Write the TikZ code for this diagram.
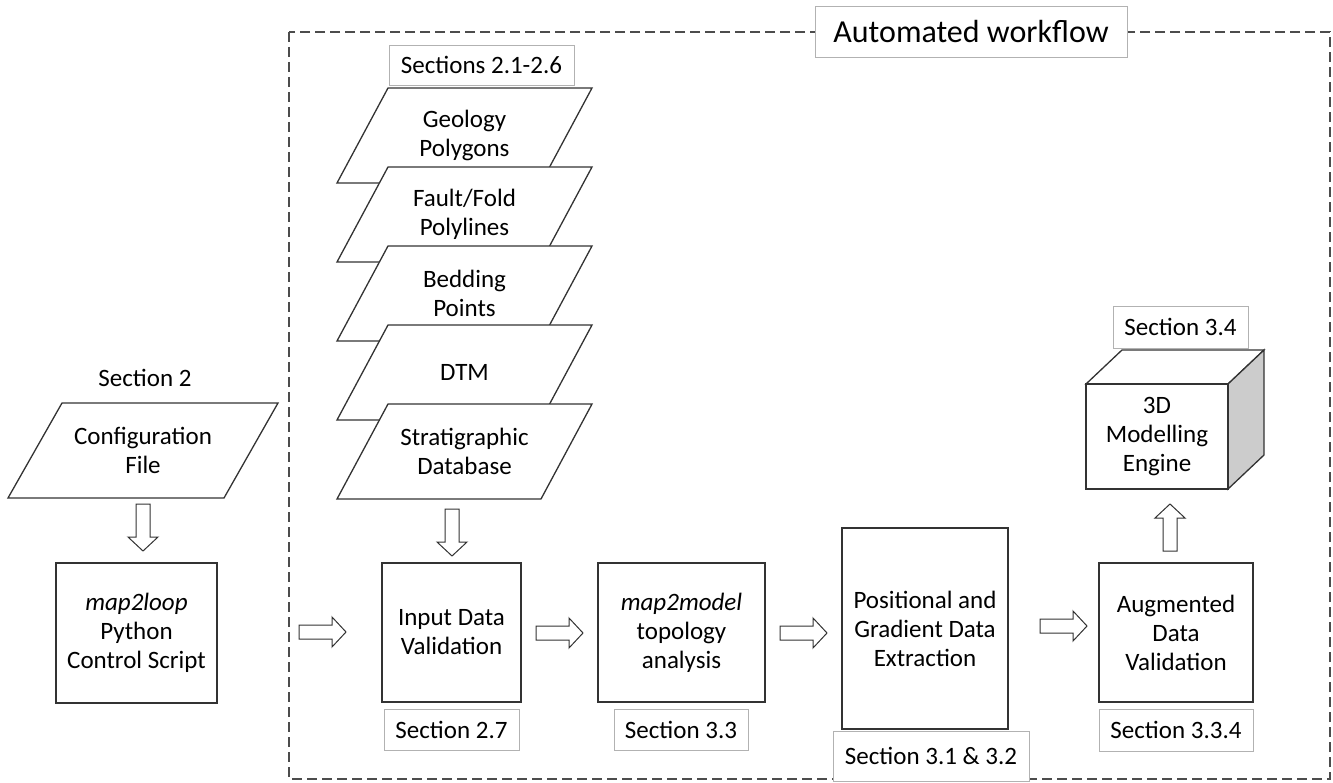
\documentclass[tikz,border=0pt]{standalone}
\usepackage{fontspec}
\setmainfont{Carlito}
\begin{document}
\begin{tikzpicture}[x=1pt,y=-1pt,
  txt/.style={font=\fontsize{25}{29}\selectfont, align=center, inner sep=0pt},
  box/.style={txt, draw=black!80, line width=1.3pt, fill=white},
  seclab/.style={txt, draw=black!30, line width=0.9pt, fill=white},
  shp/.style={draw=black!80, line width=1.3pt, fill=white, line join=miter},
  barrow/.pic={\draw[black!80, line width=1pt, fill=white, line join=miter]
     (0,-7) -- (33,-7) -- (33,-15) -- (47,0) -- (33,15) -- (33,7) -- (0,7) -- cycle;}
]
\useasboundingbox (0,0) rectangle (1333,783);

% automated workflow frame
\draw[black!70, line width=1.3pt, dash pattern=on 10pt off 5pt] (289,32) rectangle (1330,779);
\node[draw=black!30, line width=0.9pt, fill=white, font=\fontsize{32}{38}\selectfont,
      minimum width=312pt, minimum height=51pt, inner sep=0pt] (title) at (971,31.5) {Automated workflow};

% left: configuration
\node[txt, anchor=base] (sec2) at (145,387) {Section 2};
\draw[shp] (62,403) -- (278,403) -- (224,498) -- (8,498) -- cycle;
\node[txt] (conf) at (143,450.5) {Configuration\\File};
\node[box, minimum width=161pt, minimum height=140pt] (m2l) at (136.5,633) {\textit{map2loop}\\Python\\Control Script};
\pic[rotate=-90] at (143,504) {barrow};

% input stack
\node[seclab, minimum width=185pt, minimum height=40pt] (s2126) at (481.5,65) {Sections 2.1-2.6};
\foreach \t/\n/\l in {88/geo/{Geology\\Polygons}, 167/fault/{Fault/Fold\\Polylines},
                      246/bed/{Bedding\\Points}, 325/dtm/{DTM}, 404/strat/{Stratigraphic\\Database}}{
  \draw[shp] (388,\t) -- (592,\t) -- (541,\t+95) -- (337,\t+95) -- cycle;
  \node[txt] (\n) at (464.5,\t+47.5) {\l};
}
\pic[rotate=-90] at (452,509) {barrow};

% main row
\node[box, minimum width=139pt, minimum height=139pt] (inp) at (451.5,632.5) {Input Data\\Validation};
\node[seclab, minimum width=135pt, minimum height=41pt] (s27) at (451.5,729.5) {Section 2.7};

\node[box, minimum width=167pt, minimum height=139pt] (m2m) at (681.5,632.5) {\textit{map2model}\\topology\\analysis};
\node[seclab, minimum width=134pt, minimum height=41pt] (s33) at (681,729.5) {Section 3.3};

\node[box, minimum width=166pt, minimum height=201pt] (pos) at (925,628.5) {Positional and\\Gradient Data\\Extraction};
\node[seclab, minimum width=196pt, minimum height=50pt] (s3132) at (931,756) {Section 3.1 \& 3.2};

\node[box, minimum width=154pt, minimum height=139pt] (aug) at (1176,632.5) {Augmented\\Data\\Validation};
\node[seclab, minimum width=154pt, minimum height=42pt] (s334) at (1176,730) {Section 3.3.4};

\pic at (299,632) {barrow};
\pic at (536,633) {barrow};
\pic at (780,633) {barrow};
\pic at (1040,626) {barrow};
\pic[rotate=90] at (1170,551) {barrow};

% 3D cube
\node[seclab, minimum width=135pt, minimum height=42pt] (s34) at (1180.5,327) {Section 3.4};
\draw[shp] (1086,384) -- (1122,350) -- (1264,350) -- (1228,384) -- cycle;
\draw[shp, fill=black!20] (1228,384) -- (1264,350) -- (1264,455) -- (1228,489) -- cycle;
\node[box, minimum width=142pt, minimum height=105pt] (eng) at (1157,436.5) {3D\\Modelling\\Engine};
\end{tikzpicture}
\end{document}
